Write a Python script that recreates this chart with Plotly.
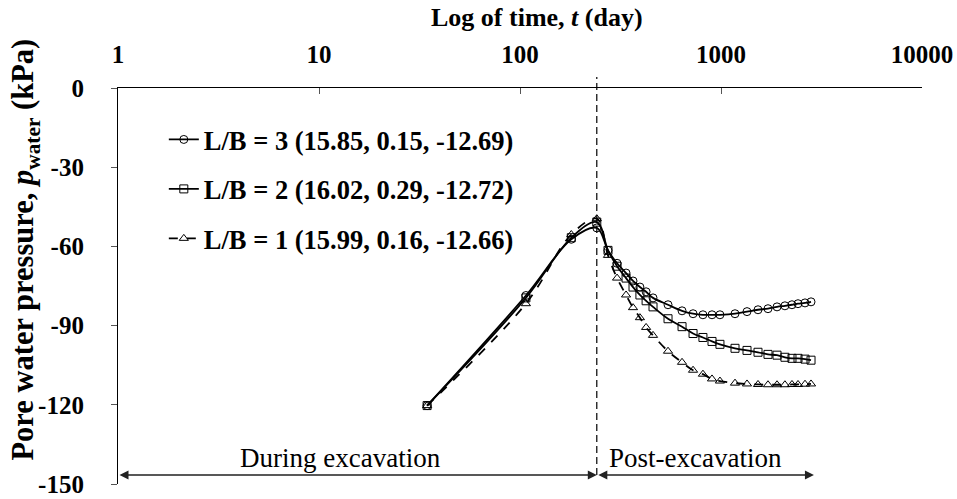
import numpy as np
import plotly.graph_objects as go

# ---------------- data ----------------
t_days = [34.5, 107, 180, 241, 274, 304, 337, 365, 395, 424, 459, 545, 640, 726,
          813, 902, 988, 1174, 1347, 1528, 1713, 1900, 2080, 2255, 2416, 2618, 2805]

p_lb3 = [-120.3, -78.6, -57.3, -53.0, -61.5, -66.4, -70.1, -73.1, -75.4, -77.2, -79.5,
         -82.1, -84.4, -85.5, -85.9, -85.9, -85.9, -85.5, -84.7, -84.0, -83.6, -82.9,
         -82.5, -82.1, -81.7, -81.4, -81.0]
p_lb2 = [-120.3, -79.5, -56.7, -50.8, -61.5, -67.5, -72.0, -75.4, -78.4, -80.6, -82.9,
         -87.4, -90.4, -93.0, -94.5, -96.0, -97.1, -98.6, -99.4, -100.1, -100.9, -101.2,
         -102.0, -102.4, -102.4, -102.7, -103.1]
p_lb1 = [-120.3, -81.7, -55.5, -49.5, -63.4, -72.0, -78.4, -83.2, -87.0, -90.7, -93.7,
         -99.7, -103.9, -106.9, -108.4, -110.2, -111.0, -111.8, -112.1, -112.3, -112.4,
         -112.4, -112.4, -112.3, -112.3, -112.2, -112.1]

series_names = ["<b>L/B = 3 (15.85, 0.15, -12.69)</b>",
                "<b>L/B = 2 (16.02, 0.29, -12.72)</b>",
                "<b>L/B = 1 (15.99, 0.16, -12.66)</b>"]

x_tickvals = [1, 10, 100, 1000, 10000]
x_ticktext = ["<b>1</b>", "<b>10</b>", "<b>100</b>", "<b>1000</b>", "<b>10000</b>"]
y_tickvals = [0, -30, -60, -90, -120, -150]
y_ticktext = ["<b>0</b>", "<b>-30</b>", "<b>-60</b>", "<b>-90</b>", "<b>-120</b>", "<b>-150</b>"]

t_excavation_end = 241
t_post_end = 2900
phase_labels = ["During excavation", "Post-excavation"]

# ---------------- figure ----------------
FONT = "'Liberation Serif', 'Times New Roman', 'DejaVu Serif', serif"
fig = go.Figure()

styles = [
    dict(symbol="circle-open", dash="solid"),
    dict(symbol="square-open", dash="solid"),
    dict(symbol="triangle-up-open", dash="dash"),
]
for name, vals, st in zip(series_names, [p_lb3, p_lb2, p_lb1], styles):
    fig.add_trace(go.Scatter(
        x=t_days, y=vals, name=name, mode="lines+markers",
        line=dict(color="black", width=1.8, dash=st["dash"], shape="spline"),
        marker=dict(symbol=st["symbol"], size=8, color="black",
                    line=dict(color="black", width=1)),
        legendgroup=name,
    ))

fig.update_layout(
    width=957, height=499,
    margin=dict(l=118, r=35, t=88, b=15, autoexpand=False),
    paper_bgcolor="white", plot_bgcolor="white",
    font=dict(family=FONT, size=25, color="black"),
    showlegend=True,
    legend=dict(x=0.057, y=0.93, xanchor="left", yanchor="top",
                bgcolor="rgba(0,0,0,0)", font=dict(size=26.5, family=FONT),
                tracegroupgap=12, itemwidth=30),
    xaxis=dict(type="log", range=[0, 4], side="top",
               tickvals=x_tickvals, ticktext=x_ticktext, automargin=False,
               ticks="inside", ticklen=6, tickcolor="#555",
               showline=True, linecolor="black", linewidth=1.2,
               showgrid=False, zeroline=False, tickfont=dict(size=25, family=FONT),
               ticklabelstandoff=14),
    yaxis=dict(range=[-150, 0], tickvals=y_tickvals, ticktext=y_ticktext,
               automargin=False, ticklabeloverflow="allow",
               ticks="outside", ticklen=6, tickcolor="#555",
               showline=True, linecolor="black", linewidth=1.2,
               showgrid=False, zeroline=False, tickfont=dict(size=25, family=FONT),
               ticklabelstandoff=22),
)

# dashed vertical line at end of excavation
fig.add_shape(type="line", xref="x", yref="paper",
              x0=t_excavation_end, x1=t_excavation_end, y0=0.023, y1=1.028,
              line=dict(color="black", width=1.2, dash="7px,4px"))

# phase arrows
arrow_y = -146.6
for (a, b) in [(1, t_excavation_end), (t_excavation_end, t_post_end)]:
    fig.add_annotation(x=np.log10(b), y=arrow_y, ax=np.log10(a), ay=arrow_y,
                       xref="x", yref="y", axref="x", ayref="y",
                       text="", showarrow=True, arrowhead=2, startarrowhead=2,
                       arrowside="end+start", arrowsize=1.2, arrowwidth=1.5,
                       arrowcolor="#222")
fig.add_annotation(x=np.log10(np.sqrt(1 * t_excavation_end)), y=arrow_y, xref="x", yref="y",
                   text=phase_labels[0], showarrow=False, yanchor="bottom", xshift=-17,
                   font=dict(family=FONT, size=27, color="black"))
fig.add_annotation(x=np.log10(np.sqrt(t_excavation_end * t_post_end)), y=arrow_y, xref="x", yref="y",
                   text=phase_labels[1], showarrow=False, yanchor="bottom", xshift=-10,
                   font=dict(family=FONT, size=27, color="black"))

# axis titles
fig.add_annotation(x=0.521, y=1.1775, xref="paper", yref="paper",
                   xanchor="center", yanchor="middle",
                   text="<b>Log of time, <i>t</i> (day)</b>", showarrow=False,
                   font=dict(family=FONT, size=26, color="black"))
fig.add_annotation(x=-0.1157, y=0.592, xref="paper", yref="paper", textangle=-90,
                   xanchor="center", yanchor="middle",
                   text="<b>Pore water pressure, <i>p</i><sub>water</sub> (kPa)</b>",
                   showarrow=False, font=dict(family=FONT, size=30.5, color="black"))

# remove the default page margin so the 957x499 figure fills the window exactly
fig.write_html("out.html", config={"displayModeBar": False},
               post_script="document.body.style.margin='0';")
